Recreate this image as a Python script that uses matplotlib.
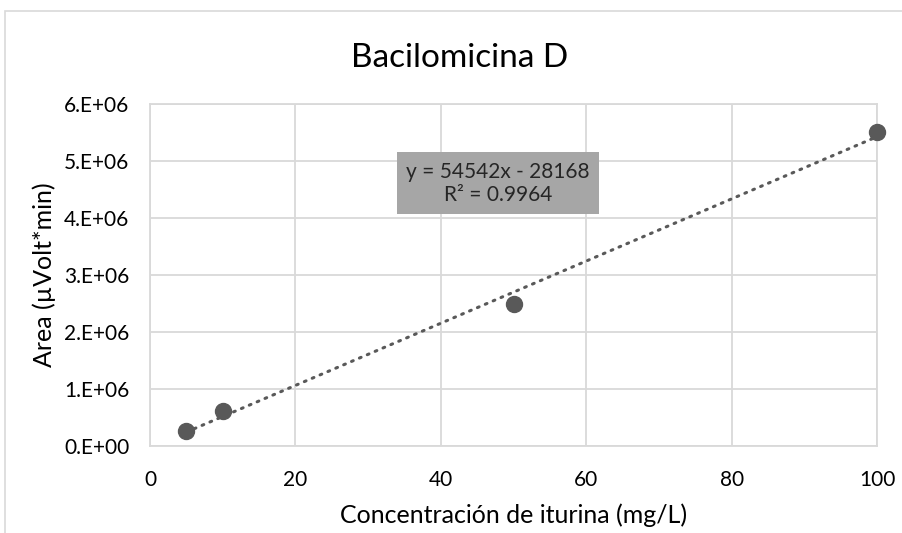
import numpy as np
import matplotlib.pyplot as plt
from matplotlib.patches import Rectangle

# calibration points: concentration (mg/L) vs peak area
conc = [5, 10, 50, 100]
area = [2.6e5, 6.2e5, 2.5e6, 5.51e6]

# linear trendline as reported
slope = 54542
intercept = -28168
r2 = 0.9964

x_ticks = [0, 20, 40, 60, 80, 100]
y_ticks = [0, 1e6, 2e6, 3e6, 4e6, 5e6, 6e6]

plt.rcParams['font.family'] = ['Lato', 'DejaVu Sans']

W, H = 902, 533
fig = plt.figure(figsize=(W / 100, H / 100), dpi=100)

# chart area border (left/top visible)
fig.patches.append(Rectangle((5 / W, -0.1), 1.2, (H - 11) / H + 0.1,
                             transform=fig.transFigure, fill=False,
                             edgecolor='#D9D9D9', linewidth=1.2))

ax = fig.add_axes([150 / W, (H - 446) / H, (877 - 150) / W, (446 - 104) / H])

grid_c = '#D9D9D9'
dark = '#595959'

ax.set_xlim(0, 100)
ax.set_ylim(0, 6e6)
ax.set_xticks(x_ticks)
ax.set_yticks(y_ticks)
ax.set_yticklabels(['%d.E+06' % (v / 1e6) if v else '0.E+00' for v in y_ticks])
ax.grid(True, color=grid_c, linewidth=1.3)
ax.set_axisbelow(True)
for s in ['top', 'right', 'left', 'bottom']:
    ax.spines[s].set_color(grid_c)
    ax.spines[s].set_linewidth(1.3)
ax.tick_params(length=0, labelsize=15, colors='#000000')
ax.tick_params(axis='x', pad=17)
ax.tick_params(axis='y', pad=15)

# trendline
xt = np.array([conc[0], conc[-1]])
ax.plot(xt, slope * xt + intercept, linestyle=(0, (0.6, 2.2)),
        dash_capstyle='round', color=dark, linewidth=2.2, zorder=2)

ax.plot(conc, area, 'o', color=dark, markersize=11.5, zorder=3, clip_on=False)

ax.text(47.9, 4.61e6, 'y = %dx - %d\nR² = %.4f' % (slope, -intercept, r2),
        ha='center', va='center', fontsize=15, color='#262626',
        linespacing=1.2, zorder=4,
        bbox=dict(boxstyle='square,pad=0.45', facecolor='#A6A6A6',
                  edgecolor='none'))

# title sits centred on the whole chart area, not the plot
fig.text(460 / W, 1 - 58 / H, 'Bacilomicina D', fontsize=24,
         ha='center', va='center')
ax.set_xlabel('Concentración de iturina (mg/L)', fontsize=18, labelpad=10)
ax.set_ylabel('Area (µVolt*min)', fontsize=18, labelpad=6)

fig.savefig('out.png', dpi=100)
